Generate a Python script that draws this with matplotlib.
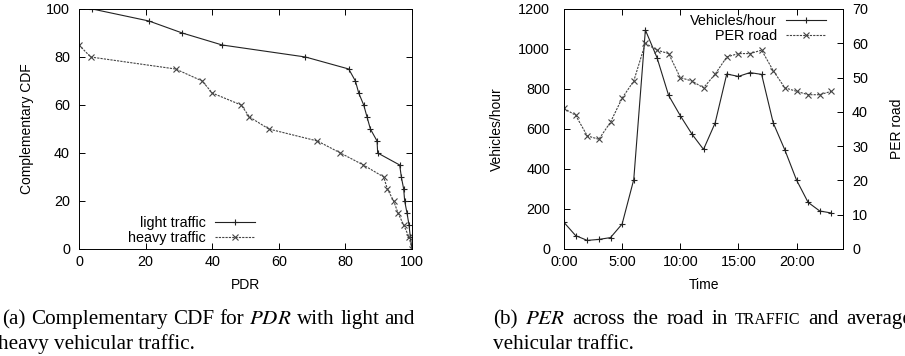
import numpy as np
import matplotlib
matplotlib.use("Agg")
import matplotlib.pyplot as plt

plt.rcParams['font.family'] = ['Liberation Sans', 'DejaVu Sans']
plt.rcParams['mathtext.fontset'] = 'stix'

# (a) complementary CDF of PDR
light_pdr = [4, 21, 31, 43, 68, 81, 83, 84, 85.5, 86.5, 87.5, 89.5, 89.7, 96.3, 96.8, 97.5, 97.8, 98.5, 99.1, 99.5, 100]
light_cdf = [100, 95, 90, 85, 80, 75, 70, 65, 60, 55, 50, 45, 40, 35, 30, 25, 20, 15, 10, 5, 0]
heavy_pdr = [0, 3.5, 29, 37, 40, 48.7, 51.2, 57, 71.6, 78.5, 85.4, 91.5, 92.6, 94.5, 95.8, 97.5, 99.1, 100]
heavy_cdf = [85, 80, 75, 70, 65, 60, 55, 50, 45, 40, 35, 30, 25, 20, 15, 10, 5, 0]

# (b) traffic per hour and PER
hours = list(range(24))
vehicles = [133, 67, 43, 48, 57, 125, 347, 1095, 957, 768, 667, 575, 498, 630,
            875, 863, 882, 873, 630, 495, 345, 233, 190, 180]
per_road = [41, 39, 33, 32, 37, 44, 49, 60, 58, 57, 50, 49, 47, 51,
            56, 57, 57, 58, 52, 47, 46, 45, 45, 46]

fig = plt.figure(figsize=(9.05, 3.56), dpi=100)
ax1 = fig.add_axes([79/905, 1-249/356, 333/905, 240/356])
ax2 = fig.add_axes([564/905, 1-249/356, 279/905, 240/356])

lc = '#222222'
fs = 10.4
lfs = 10

ax1.plot(light_pdr, light_cdf, color=lc, lw=0.8, marker='+', ms=5, mew=0.8, label='light traffic')
ax1.plot(heavy_pdr, heavy_cdf, color='#444444', lw=0.8, ls=(0, (2, 1)), marker='x', ms=4, mew=0.8, label='heavy traffic')
ax1.set_xlim(0, 100)
ax1.set_ylim(0, 100)
ax1.set_xticks(np.arange(0, 101, 20))
ax1.set_yticks(np.arange(0, 101, 20))
ax1.set_xlabel('PDR', fontsize=lfs, labelpad=7)
ax1.set_ylabel('Complementary CDF', fontsize=lfs, labelpad=9)
ax1.tick_params(direction='in', top=True, right=True, length=4, labelsize=fs, width=0.7)
ax1.tick_params(axis='y', pad=6.5)
ax1.tick_params(axis='x', pad=4)
ax1.legend(loc='center right', bbox_to_anchor=(0.5285, 0.077), frameon=False, markerfirst=False,
           fontsize=fs, handlelength=2.8, handletextpad=0.6, labelspacing=0.05,
           borderpad=0, borderaxespad=0, alignment='right')

l1, = ax2.plot(hours, vehicles, color=lc, lw=0.8, marker='+', ms=5, mew=0.8, label='Vehicles/hour')
ax3 = ax2.twinx()
l2, = ax3.plot(hours, per_road, color='#444444', lw=0.8, ls=(0, (2, 1)), marker='x', ms=4, mew=0.8, label='PER road')
ax2.set_xlim(0, 24)
ax2.set_ylim(0, 1200)
ax3.set_ylim(0, 70)
ax2.set_xticks([0, 5, 10, 15, 20])
ax2.set_xticklabels(['0:00', '5:00', '10:00', '15:00', '20:00'])
ax2.set_yticks(np.arange(0, 1201, 200))
ax3.set_yticks(np.arange(0, 71, 10))
ax2.set_xlabel('Time', fontsize=lfs, labelpad=7)
ax2.set_ylabel('Vehicles/hour', fontsize=lfs, labelpad=10)
ax3.set_ylabel('PER road', fontsize=lfs, labelpad=16)
ax2.tick_params(direction='in', top=True, length=4, labelsize=fs, width=0.7)
ax2.tick_params(axis='y', pad=10)
ax2.tick_params(axis='x', pad=4)
ax3.tick_params(direction='in', length=4, labelsize=fs, width=0.7, pad=6.5)
ax2.legend(handles=[l1, l2], loc='center right', bbox_to_anchor=(0.939, 0.919), frameon=False,
           markerfirst=False, fontsize=fs, handlelength=2.8, handletextpad=0.6,
           labelspacing=0.05, borderpad=0, borderaxespad=0, alignment='right')

for a in (ax1, ax2, ax3):
    for s in a.spines.values():
        s.set_linewidth(0.7)

# captions (justified first lines, like the LaTeX subcaptions)
fig.canvas.draw()
renderer = fig.canvas.get_renderer()
cap = dict(fontsize=15.2, family='Liberation Serif', va='baseline')
W = fig.bbox.width


def justify(words, x0, x1, y):
    texts = [fig.text(0, y, w, **{**cap, **kw}) for w, kw in words]
    widths = [t.get_window_extent(renderer).width for t in texts]
    gap = (x1 - x0 - sum(widths)) / (len(texts) - 1)
    x = x0
    for t, w in zip(texts, widths):
        t.set_x(x / W)
        x += w + gap


justify([('(a)', {}), ('Complementary', {}), ('CDF', {}), ('for', {}), ('$PDR$', {}),
         ('with', {}), ('light', {}), ('and', {})], 2, 415, 1-324/356)
fig.text(-2/905, 1-349/356, 'heavy vehicular traffic.', **cap)
justify([('(b)', {}), ('$PER$', {}), ('across', {}), ('the', {}), ('road', {}), ('in', {}),
         ('TRAFFIC', {'fontsize': 11.5}), ('and', {}), ('average', {})], 493, 912, 1-324/356)
fig.text(493/905, 1-349/356, 'vehicular traffic.', **cap)

fig.savefig('out.png', dpi=100)
